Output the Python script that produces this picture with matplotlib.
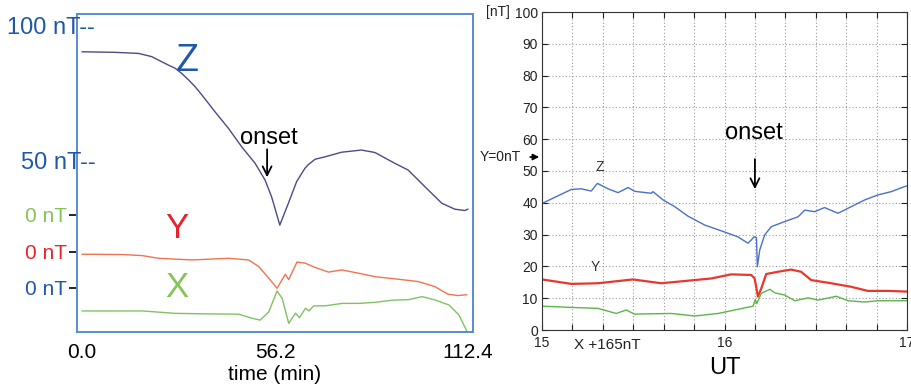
import numpy as np
import matplotlib
matplotlib.use("Agg")
import matplotlib.pyplot as plt
import matplotlib.transforms as mtransforms

plt.rcParams['font.family'] = ['Liberation Sans', 'DejaVu Sans']

# ---- Left panel: model traces (time in minutes, field in nT) ----
z_t = [0, 9.5, 16.4, 20.3, 23.2, 25.1, 27.1, 29.0, 31.0, 32.9, 34.9, 38.7, 42.6, 46.5,
       50.4, 53.3, 55.2, 56.2, 57.6, 60.1, 62.5, 64.9, 65.9, 67.9, 70.8, 75.6, 81.4,
       85.3, 91.1, 95.0, 99.9, 104.8, 108.6, 111.5, 112.4]
z_v = [91.3, 91.1, 90.7, 89.5, 87.6, 86.4, 85.2, 83.3, 80.9, 78.4, 75.3, 69.1, 63.0, 56.1,
       50.0, 43.8, 37.6, 33.3, 27.1, 35.2, 43.2, 48.1, 49.5, 51.5, 52.4, 54.1, 54.9,
       54.0, 50.0, 47.5, 41.3, 35.2, 33.0, 32.5, 33.0]

y_t = [0, 11.6, 17.5, 22.3, 32.0, 42.7, 48.5, 51.4, 54.4, 56.8, 59.2, 60.2, 62.6, 65.0,
       67.9, 71.8, 75.6, 80.5, 85.3, 91.1, 97.9, 102.8, 106.6, 109.5, 112.0]
y_v = [-1.0, -1.1, -1.5, -2.5, -3.1, -2.5, -3.1, -5.5, -9.9, -13.6, -8.4, -10.4, -3.9, -4.3,
       -5.9, -7.6, -6.8, -8.0, -9.3, -10.1, -11.1, -13.0, -15.8, -16.3, -16.0]

x_t = [0, 17.5, 27.2, 36.9, 45.6, 49.5, 51.9, 54.4, 56.8, 58.3, 60.2, 62.2, 63.3, 65.1,
       66.1, 67.5, 70.9, 75.8, 80.6, 85.5, 90.4, 95.2, 99.1, 103.0, 106.9, 109.8, 112.2]
x_v = [-8.6, -8.6, -9.5, -9.7, -9.8, -11.3, -12.0, -8.9, -1.2, -4.0, -13.2, -9.4, -11.1, -7.6,
       -8.6, -6.7, -6.7, -5.8, -5.8, -5.4, -4.6, -4.4, -3.3, -4.6, -6.4, -10.1, -16.3]

# vertical offsets of the stacked traces (in Z units)
y_base = 17.3
x_base = 3.9
green_zero = 30.85

left_xticks = [0.0, 56.2, 112.4]
left_xticklabels = ['0.0', '56.2', '112.4']

# ---- Right panel: observed traces (minutes after 15 UT, nT) ----
rz_t = [0, 9.65, 12.9, 16.2, 18.2, 21.7, 25.0, 28.3, 30.5, 35.9, 36.5, 39.8, 43.6, 48.0,
        53.5, 58.9, 64.4, 67.7, 68.8, 69.7, 70.5, 70.8, 71.6, 73.2, 75.4, 79.8, 84.2,
        86.4, 89.6, 92.9, 97.3, 101.7, 106.1, 110.5, 114.8, 119.2, 120]
rz_v = [39.8, 44.2, 44.4, 43.7, 46.1, 44.4, 43.2, 44.8, 43.6, 43.0, 43.5, 40.9, 38.8, 35.8,
        33.0, 31.2, 29.3, 27.3, 28.3, 29.3, 29.0, 19.9, 25.2, 29.9, 32.5, 34.1, 35.6,
        37.7, 37.2, 38.5, 36.7, 38.8, 40.9, 42.5, 43.5, 45.1, 45.3]

ry_t = [0, 9.65, 18.4, 29.9, 39.2, 48.0, 55.6, 62.2, 68.8, 69.9, 71.0, 72.1, 73.7, 77.5,
        81.9, 85.2, 88.5, 95.1, 101.6, 107.1, 113.7, 119.2, 120]
ry_v = [15.9, 14.5, 14.7, 15.9, 14.7, 15.5, 16.2, 17.5, 17.3, 16.2, 10.5, 13.1, 17.6, 18.3,
        19.0, 18.3, 15.7, 14.7, 13.6, 12.3, 12.3, 12.1, 12.1]

rx_t = [0, 9.65, 18.4, 24.4, 27.7, 30.4, 42.5, 50.2, 57.9, 64.4, 69.4, 70.1, 70.6, 72.1,
        74.9, 76.5, 79.8, 83.1, 87.5, 90.8, 96.8, 100.6, 106.1, 110.5, 119.2, 120]
rx_v = [7.5, 7.1, 6.8, 5.2, 6.3, 5.0, 5.2, 4.4, 5.2, 6.5, 7.5, 9.6, 8.3, 11.5,
        12.8, 11.7, 11.0, 9.2, 10.1, 9.4, 10.6, 9.2, 8.8, 9.2, 9.2, 9.2]

right_yticks = list(range(0, 101, 10))
right_xtick_labels = {15.0: '15', 16.0: '16', 17.0: '17'}

# ---- colours ----
frame_blue = '#5b8cd2'
label_blue = '#1f58a8'
label_red = '#e8232b'
label_green = '#84c459'
z_line = '#4d4a88'
y_line = '#f07352'
x_line = '#7fc264'
rz_col = '#4a70c8'
ry_col = '#e8372c'
rx_col = '#5cb548'

fig = plt.figure(figsize=(9.11, 3.88), dpi=100)

# ================= left panel =================
axL = fig.add_axes([77 / 911, 1 - 332 / 388, 396 / 911, 318 / 388])
axL.plot(z_t, z_v, color=z_line, lw=1.0)
axL.plot(y_t, np.array(y_v) + y_base, color=y_line, lw=1.0)
axL.plot(x_t, np.array(x_v) + x_base, color=x_line, lw=1.0)
axL.set_xlim(-1.5, 113.9)
axL.set_ylim(-12.5, 105.3)
for s in axL.spines.values():
    s.set_color(frame_blue)
    s.set_linewidth(1.4)

axL.set_xticks(left_xticks)
axL.set_xticklabels(left_xticklabels, fontsize=15)
axL.tick_params(axis='x', length=0, pad=8)
axL.set_xlabel('time (min)', fontsize=15, labelpad=2)

yt = [100, 50, green_zero, y_base, x_base]
axL.set_yticks(yt)
axL.set_yticklabels(['', '', '0 nT', '0 nT', '0 nT'], fontsize=15)
axL.tick_params(axis='y', length=6, width=1.2, pad=1)
tick_cols = [label_blue, label_blue, label_green, label_red, label_blue]
for tk, c in zip(axL.yaxis.get_major_ticks(), tick_cols):
    tk.label1.set_color(c)
    tk.tick1line.set_color(c)
for tk in axL.yaxis.get_major_ticks()[:2]:
    tk.tick1line.set_visible(False)

trL = mtransforms.blended_transform_factory(axL.transAxes, axL.transData)
for val, txt in [(100, '100 nT--'), (50, '50 nT--')]:
    axL.text(0.046, val, txt, transform=trL, ha='right', va='center',
             fontsize=17, color=label_blue, clip_on=False)

axL.text(30.5, 88, 'Z', fontsize=27, color=label_blue, ha='center', va='center')
axL.text(27.5, 26.0, 'Y', fontsize=25, color=label_red, ha='center', va='center')
axL.text(27.5, 4.0, 'X', fontsize=25, color=label_green, ha='center', va='center')

axL.text(54.5, 59.5, 'onset', fontsize=17, ha='center', va='center')
axL.annotate('', xy=(53.9, 43.8), xytext=(53.9, 56.2),
             arrowprops=dict(arrowstyle='->', lw=1.3, color='black',
                             mutation_scale=16))

# ================= right panel =================
axR = fig.add_axes([542 / 911, 1 - 330 / 388, 365 / 911, 318 / 388])
hz = 15 + np.array(rz_t) / 60
hy = 15 + np.array(ry_t) / 60
hx = 15 + np.array(rx_t) / 60
axR.plot(hy, ry_v, color=ry_col, lw=1.6)
axR.plot(hx, rx_v, color=rx_col, lw=1.0)
axR.plot(hz, rz_v, color=rz_col, lw=1.0)
axR.set_xlim(15, 17)
axR.set_ylim(0, 100)

narrow = ['Liberation Sans Narrow', 'Liberation Sans', 'DejaVu Sans']
xt = [15 + k / 6 for k in range(13)]
axR.set_xticks(xt)
axR.set_xticklabels([right_xtick_labels.get(round(v, 3), '') for v in xt],
                    fontsize=10, family=narrow)
axR.set_yticks(right_yticks)
axR.set_yticklabels([str(v) for v in right_yticks], fontsize=10, family=narrow)
axR.tick_params(direction='in', length=4, width=0.8, top=True, right=True,
                colors='#222222', pad=3)
axR.tick_params(axis='x', pad=4)
axR.grid(True, color='#9a9a9a', lw=0.8, ls=(0, (1, 2)))
for s in axR.spines.values():
    s.set_color('#333333')
    s.set_linewidth(0.8)

axR.text(19.0 / 60 + 15, 51.4, 'Z', fontsize=10, family=narrow, ha='center', va='center',
         color='#333333')
axR.text(17.5 / 60 + 15, 19.7, 'Y', fontsize=10, family=narrow, ha='center', va='center',
         color='#333333')

axR.text(-0.12, 1.0, '[nT]', transform=axR.transAxes, fontsize=10, family=narrow,
         ha='center', va='center', color='#222222')
trR = mtransforms.blended_transform_factory(axR.transAxes, axR.transData)
axR.text(-0.115, 54.4, 'Y=0nT', transform=trR, fontsize=10, family=narrow,
         ha='center', va='center', color='#222222', clip_on=False)
axR.annotate('', xy=(0.0, 54.4), xytext=(-0.04, 54.4), xycoords=trR, textcoords=trR,
             arrowprops=dict(arrowstyle='-|>', lw=1.2, color='black',
                             mutation_scale=9), annotation_clip=False)

axR.text(0.18, -0.047, 'X +165nT', transform=axR.transAxes, fontsize=11, family=narrow,
         ha='center', va='center', color='#222222')
axR.set_xlabel('UT', fontsize=17, labelpad=5)

axR.text(15 + 69.5 / 60, 62.0, 'onset', fontsize=17, ha='center', va='center')
axR.annotate('', xy=(15 + 70.0 / 60, 43.4), xytext=(15 + 70.0 / 60, 54.6),
             arrowprops=dict(arrowstyle='->', lw=1.3, color='black',
                             mutation_scale=16))

fig.savefig('out.png', dpi=100)
